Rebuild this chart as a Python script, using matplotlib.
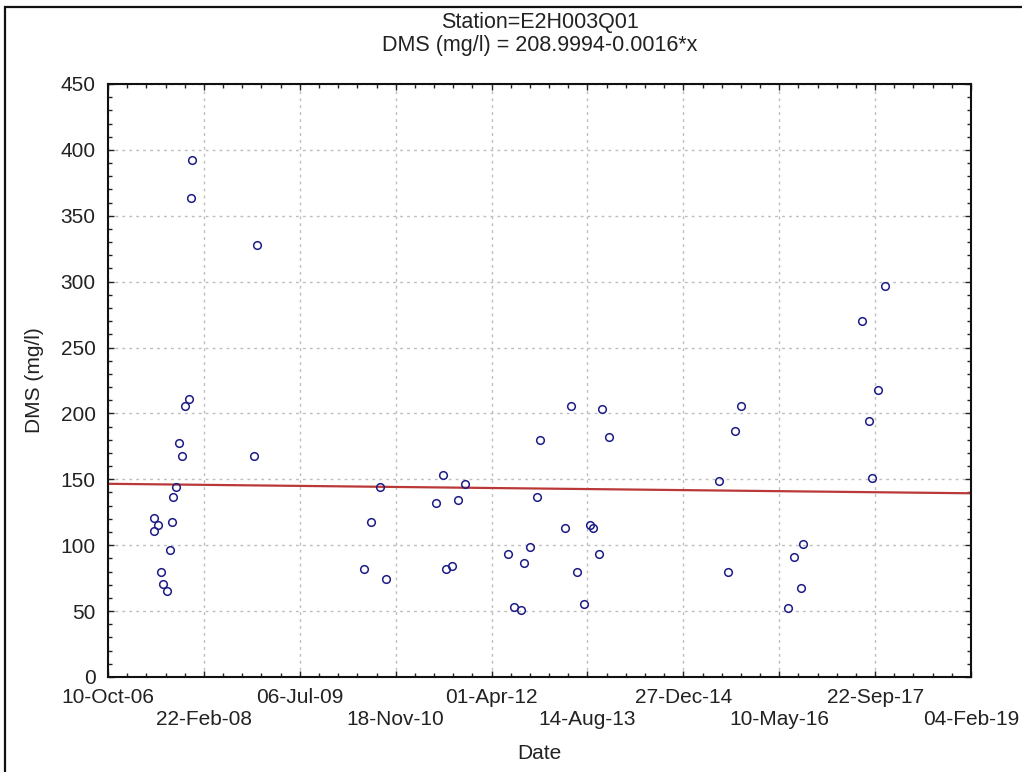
import datetime as dt

import matplotlib
import numpy as np

matplotlib.use("Agg")
import matplotlib.pyplot as plt  # noqa: E402
from matplotlib.patches import Rectangle  # noqa: E402
from matplotlib.ticker import FixedLocator, MultipleLocator  # noqa: E402

plt.rcParams["font.family"] = ["Liberation Sans", "DejaVu Sans"]

# sample dates as Excel/Statistica day serials, DMS in mg/l
dates = [39239, 39258, 39241, 39274, 39289, 39308, 39322, 39336, 39338, 39353,
         39372, 39384, 39401, 39422, 39435, 39436, 39763, 39779, 40334, 40369,
         40419, 40452, 40710, 40745, 40760, 40795, 40824, 40860, 41087, 41118,
         41153, 41169, 41201, 41236, 41252, 41383, 41414, 41447, 41480, 41511,
         41530, 41561, 41575, 41612, 42186, 42233, 42267, 42301, 42545, 42577,
         42612, 42626, 42934, 42968, 42984, 43017, 43051]
dms = [121.0, 115.5, 110.4, 79.6, 70.7, 65.4, 96.0, 117.8, 136.7, 144.5,
       177.5, 167.8, 206.0, 211.1, 363.6, 392.4, 167.8, 327.7, 81.9, 117.8,
       143.8, 74.7, 132.2, 153.4, 81.9, 84.4, 134.4, 146.4, 93.5, 53.0,
       50.8, 86.4, 98.6, 136.7, 179.7, 113.0, 205.8, 79.6, 55.5, 115.3,
       113.0, 93.5, 203.6, 182.2, 148.9, 79.6, 186.6, 206.0, 52.7, 91.2,
       67.5, 100.8, 270.5, 193.9, 151.1, 217.9, 297.0]

# fitted line: DMS = a + b*x
intercept = 208.9994
slope = -0.0016

x_ticks = [39000, 39500, 40000, 40500, 41000, 41500, 42000, 42500, 43000, 43500]
y_ticks = [0, 50, 100, 150, 200, 250, 300, 350, 400, 450]

EXCEL_EPOCH = dt.datetime(1899, 12, 30)


def serial_label(v):
    return (EXCEL_EPOCH + dt.timedelta(days=int(v))).strftime("%d-%b-%y")


fig = plt.figure(figsize=(10.22, 7.72), dpi=100)
ax = fig.add_axes([0.1057, 0.1231, 0.8444, 0.7681])

ax.plot(dates, dms, "o", ms=5.5, mfc="none", mec="#1c1c86", mew=1.1, zorder=3)
xs = np.array([x_ticks[0], x_ticks[-1]])
ax.plot(xs, intercept + slope * xs, color="#bb3838", lw=1.6, zorder=2)

ax.set_xlim(x_ticks[0], x_ticks[-1])
ax.set_ylim(y_ticks[0], y_ticks[-1])
ax.xaxis.set_major_locator(FixedLocator(x_ticks))
ax.xaxis.set_minor_locator(MultipleLocator(100))
ax.yaxis.set_major_locator(FixedLocator(y_ticks))
ax.yaxis.set_minor_locator(MultipleLocator(10))
# staggered date labels, every other one dropped a line
ax.set_xticklabels([("\n" if i % 2 else "") + serial_label(v)
                    for i, v in enumerate(x_ticks)])
ax.set_yticklabels([str(v) for v in y_ticks])

ax.tick_params(which="both", direction="in", top=True, right=True,
               labelsize=15, colors="#222222", width=1.0)
ax.tick_params(which="major", length=4)
ax.tick_params(which="minor", length=3)
ax.tick_params(axis="x", pad=8)
ax.tick_params(axis="y", pad=9)
ax.grid(True, which="major", color="#bdbdbd", linestyle=(0, (2, 3)), lw=1.0)
for s in ax.spines.values():
    s.set_linewidth(1.5)
    s.set_color("#111111")

ax.set_xlabel("Date", fontsize=15, color="#222222")
ax.xaxis.set_label_coords(0.5, -0.113)
ax.set_ylabel("DMS (mg/l)", fontsize=15, color="#222222")
ax.yaxis.set_label_coords(-0.074, 0.5)

cx = 0.1057 + 0.8444 / 2
fig.text(cx, 0.9715, "Station=E2H003Q01", ha="center", va="center",
         fontsize=15.5, color="#222222")
fig.text(cx, 0.9417, f"DMS (mg/l) = {intercept:.4f}{slope:.4f}*x",
         ha="center", va="center", fontsize=15.5, color="#222222")

# outer frame of the exported graph window
fig.patches.append(Rectangle((5 / 1022, -0.05), 1.2, 1.05 - 7 / 772,
                             transform=fig.transFigure, fill=False,
                             ec="#111111", lw=1.6, clip_on=False))

fig.savefig("out.png", dpi=100)
